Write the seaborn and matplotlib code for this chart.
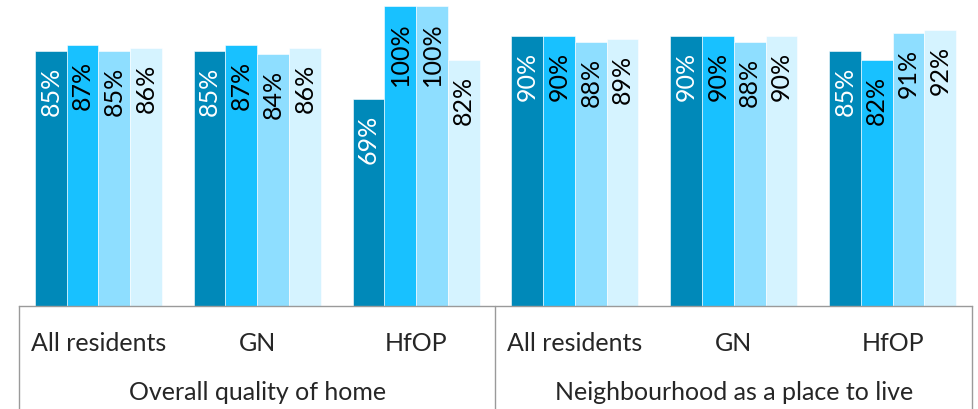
import pandas as pd
import matplotlib.pyplot as plt
import matplotlib.transforms as mtransforms
import seaborn as sns

# Chart data
topics = ['Overall quality of home', 'Neighbourhood as a place to live']
groups = ['All residents', 'GN', 'HfOP']
series = ['Series 1', 'Series 2', 'Series 3', 'Series 4']
values = {
    'Series 1': [85, 85, 69, 90, 90, 85],
    'Series 2': [87, 87, 100, 90, 90, 82],
    'Series 3': [85, 84, 100, 88, 88, 91],
    'Series 4': [86, 86, 82, 89, 90, 92],
}
colors = ['#0089B9', '#18C1FF', '#8EDEFF', '#D5F3FF']
label_colors = ['white', 'black', 'black', 'black']

# long table for seaborn
keys = [f'{t}|{g}' for t in topics for g in groups]
rows = []
for s in series:
    for k, v in zip(keys, values[s]):
        rows.append({'key': k, 'series': s, 'value': v})
df = pd.DataFrame(rows)

sns.set_theme(style='white')
plt.rcParams['font.family'] = ['Lato', 'DejaVu Sans']

W, H = 979, 409
fig = plt.figure(figsize=(W / 100, H / 100), dpi=100)
left, right, bottom, top = 19, 972, 305.5, 6
ax = fig.add_axes([left / W, (H - bottom) / H, (right - left) / W, (bottom - top) / H])

sns.barplot(data=df, x='key', y='value', hue='series', order=keys,
            hue_order=series, palette=colors, width=0.8, saturation=1,
            edgecolor='white', linewidth=0.4, legend=False, ax=ax)

ax.set_xlim(-0.5, len(keys) - 0.5)
ax.set_ylim(0, 100)
ax.set_xlabel('')
ax.set_ylabel('')
ax.set_yticks([])
for sp in ['top', 'left', 'right']:
    ax.spines[sp].set_visible(False)
ax.spines['bottom'].set_color('#9a9a9a')
ax.spines['bottom'].set_linewidth(1)

# value labels, rotated inside top of bars
for i, cont in enumerate(ax.containers):
    for bar in cont:
        h = bar.get_height()
        ax.annotate(f'{h:.0f}%', (bar.get_x() + bar.get_width() / 2, h),
                    xytext=(0, -11.5), textcoords='offset points',
                    rotation=90, ha='center', va='top',
                    fontsize=18, color=label_colors[i])

# two-level category axis
ax.set_xticks(range(len(keys)))
ax.set_xticklabels([g for t in topics for g in groups], fontsize=18)
ax.tick_params(axis='x', length=0, pad=19)

trans = mtransforms.blended_transform_factory(ax.transData, ax.transAxes)
depth = (H - bottom) / (bottom - top)
for x in [-0.5, 2.5, 5.5]:
    ax.plot([x, x], [0, -depth], color='#9a9a9a', lw=1,
            transform=trans, clip_on=False)
for j, t in enumerate(topics):
    ax.text(j * 3 + 1, -(393 - bottom) / (bottom - top), t, transform=trans,
            ha='center', va='center', fontsize=18)

fig.savefig('out.png', dpi=100)
